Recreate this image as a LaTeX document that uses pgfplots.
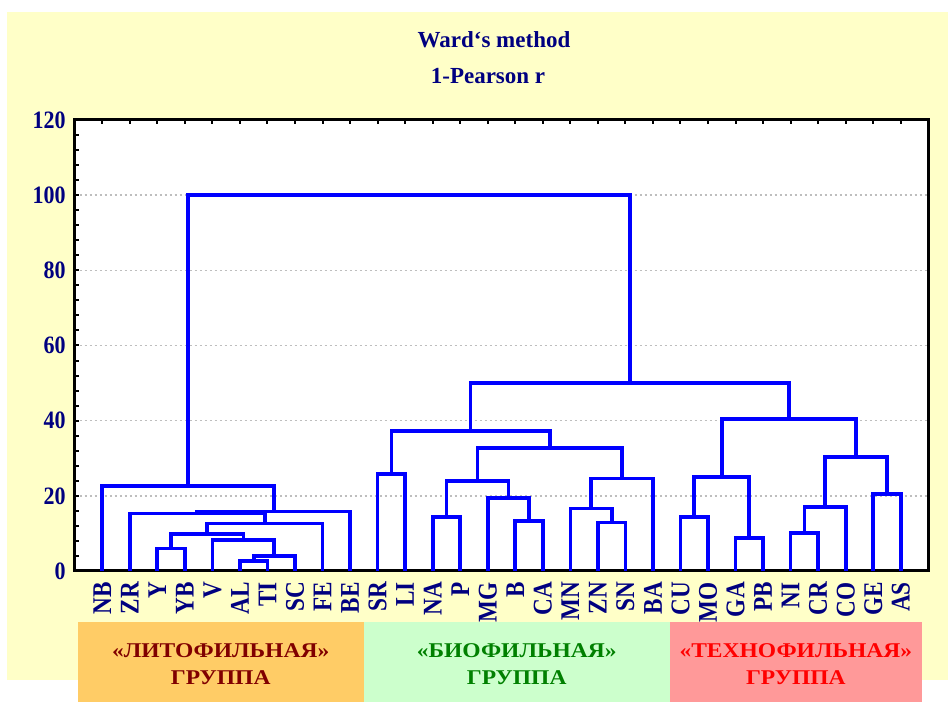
\documentclass[border=0pt]{standalone}
\usepackage{pgfplots}
\pgfplotsset{compat=1.18}
\usepackage{fontspec}
\setmainfont{Liberation Serif}

\definecolor{bgyellow}{RGB}{255,255,200}
\definecolor{navytext}{RGB}{0,0,128}
\definecolor{gridgray}{RGB}{190,190,190}
\definecolor{dendroblue}{RGB}{0,0,255}
\definecolor{litbox}{RGB}{255,204,102}
\definecolor{biobox}{RGB}{204,255,204}
\definecolor{techbox}{RGB}{255,153,153}
\definecolor{littext}{RGB}{128,0,0}
\definecolor{biotext}{RGB}{0,128,0}
\definecolor{techtext}{RGB}{255,0,0}

% narrow bold lettering used for the labels
\newcommand{\grp}[1]{\scalebox{1.12}[1]{#1}}
\newcommand{\xl}[1]{\scalebox{0.86}[1]{#1}}
\pgfplotsset{dendro/.style={color=dendroblue, solid, line width=3.7bp, mark=none, line join=miter}}

\begin{document}
\begin{tikzpicture}[x=1bp,y=1bp]
\useasboundingbox (0,0) rectangle (948,702);
\fill[white] (0,0) rectangle (948,702);
\fill[bgyellow] (7,22) rectangle (948,690);

% group bands under the leaf labels
\fill[litbox]  (78,0)    rectangle (363.5,80);
\fill[biobox]  (363.5,0) rectangle (670,80);
\fill[techbox] (670,0)   rectangle (921.7,80);
\begin{scope}[every node/.style={anchor=base, font=\fontsize{21bp}{21bp}\selectfont\bfseries}]
  \node[text=littext]  at (220.7,44) {\grp{«ЛИТОФИЛЬНАЯ»}};
  \node[text=littext]  at (220.7,17) {\grp{ГРУППА}};
  \node[text=biotext]  at (516.7,44) {\grp{«БИОФИЛЬНАЯ»}};
  \node[text=biotext]  at (516.7,17) {\grp{ГРУППА}};
  \node[text=techtext] at (795.8,44) {\grp{«ТЕХНОФИЛЬНАЯ»}};
  \node[text=techtext] at (795.8,17) {\grp{ГРУППА}};
\end{scope}

\begin{axis}[
  at={(74.7bp,131bp)}, anchor=south west, scale only axis,
  width=853.6bp, height=451bp,
  xmin=0, xmax=31, ymin=0, ymax=120,
  axis background/.style={fill=white},
  axis line style={line width=3bp, black},
  ytick={0,20,...,120},
  minor y tick num=4,
  ytick pos=left,
  xtick={1,...,30},
  xticklabels={\xl{NB},\xl{ZR},\xl{Y},\xl{YB},\xl{V},\xl{AL},\xl{TI},\xl{SC},\xl{FE},\xl{BE},
               \xl{SR},\xl{LI},\xl{NA},\xl{P},\xl{MG},\xl{B},\xl{CA},\xl{MN},\xl{ZN},\xl{SN},\xl{BA},
               \xl{CU},\xl{MO},\xl{GA},\xl{PB},\xl{NI},\xl{CR},\xl{CO},\xl{GE},\xl{AS}},
  xtick pos=both,
  tick align=inside,
  major tick length=4bp, minor tick length=4bp,
  every tick/.style={line width=2bp, black},
  ymajorgrids,
  major grid style={dash pattern=on 2bp off 3bp, line width=1.6bp, color=gridgray},
  /pgf/number format/assume math mode=true,
  yticklabel={\scalebox{0.88}[1]{\pgfmathprintnumber{\tick}}},
  yticklabel style={font=\fontsize{25bp}{25bp}\selectfont\bfseries, text=navytext, inner sep=0pt},
  yticklabel shift=9bp,
  xticklabel style={rotate=90, anchor=east, inner sep=0pt, font=\fontsize{27bp}{27bp}\selectfont\bfseries, text=navytext},
  xticklabel shift=11bp,
]
% lithophile cluster
\addplot[dendro] coordinates {(6,0) (6,2.7) (7,2.7) (7,0)};
\addplot[dendro] coordinates {(6.5,2.7) (6.5,4.0) (8,4.0) (8,0)};
\addplot[dendro] coordinates {(5,0) (5,8.2) (7.25,8.2) (7.25,4.0)};
\addplot[dendro] coordinates {(3,0) (3,6.0) (4,6.0) (4,0)};
\addplot[dendro] coordinates {(3.5,6.0) (3.5,9.8) (6.125,9.8) (6.125,8.2)};
\addplot[dendro] coordinates {(4.8125,9.8) (4.8125,12.6) (9,12.6) (9,0)};
\addplot[dendro] coordinates {(2,0) (2,15.3) (6.90625,15.3) (6.90625,12.6)};
\addplot[dendro] coordinates {(4.453125,15.3) (4.453125,15.8) (10,15.8) (10,0)};
\addplot[dendro] coordinates {(1,0) (1,22.6) (7.2265625,22.6) (7.2265625,15.8)};
% biophile cluster
\addplot[dendro] coordinates {(11,0) (11,25.9) (12,25.9) (12,0)};
\addplot[dendro] coordinates {(13,0) (13,14.4) (14,14.4) (14,0)};
\addplot[dendro] coordinates {(16,0) (16,13.3) (17,13.3) (17,0)};
\addplot[dendro] coordinates {(15,0) (15,19.4) (16.5,19.4) (16.5,13.3)};
\addplot[dendro] coordinates {(13.5,14.4) (13.5,23.9) (15.75,23.9) (15.75,19.4)};
\addplot[dendro] coordinates {(19,0) (19,12.9) (20,12.9) (20,0)};
\addplot[dendro] coordinates {(18,0) (18,16.6) (19.5,16.6) (19.5,12.9)};
\addplot[dendro] coordinates {(18.75,16.6) (18.75,24.6) (21,24.6) (21,0)};
\addplot[dendro] coordinates {(14.625,23.9) (14.625,32.7) (19.875,32.7) (19.875,24.6)};
\addplot[dendro] coordinates {(11.5,25.9) (11.5,37.2) (17.25,37.2) (17.25,32.7)};
% technophile cluster
\addplot[dendro] coordinates {(22,0) (22,14.4) (23,14.4) (23,0)};
\addplot[dendro] coordinates {(24,0) (24,8.8) (25,8.8) (25,0)};
\addplot[dendro] coordinates {(22.5,14.4) (22.5,25.0) (24.5,25.0) (24.5,8.8)};
\addplot[dendro] coordinates {(26,0) (26,10.2) (27,10.2) (27,0)};
\addplot[dendro] coordinates {(26.5,10.2) (26.5,17.1) (28,17.1) (28,0)};
\addplot[dendro] coordinates {(29,0) (29,20.4) (30,20.4) (30,0)};
\addplot[dendro] coordinates {(27.25,17.1) (27.25,30.3) (29.5,30.3) (29.5,20.4)};
\addplot[dendro] coordinates {(23.5,25.0) (23.5,40.5) (28.375,40.5) (28.375,30.3)};
% upper joins
\addplot[dendro] coordinates {(14.375,37.2) (14.375,50.1) (25.9375,50.1) (25.9375,40.5)};
\addplot[dendro] coordinates {(4.11328125,22.6) (4.11328125,100) (20.15625,100) (20.15625,50.1)};
\end{axis}

\begin{scope}[every node/.style={anchor=base, text=navytext, font=\fontsize{23bp}{23bp}\selectfont\bfseries}]
  \node at (494,654) {Ward`s method};
  \node at (488,618) {1-Pearson r};
\end{scope}
\end{tikzpicture}
\end{document}
